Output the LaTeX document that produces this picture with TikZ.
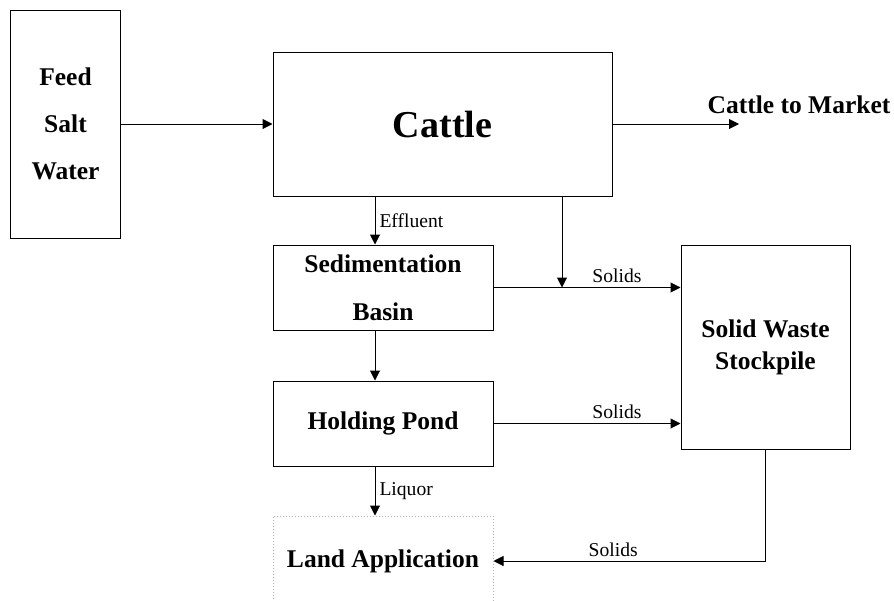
\documentclass[tikz,border=0pt]{standalone}
\usepackage{fontspec}
\setmainfont{Liberation Serif}
\usetikzlibrary{arrows.meta, calc, positioning}

\begin{document}
\begin{tikzpicture}[x=0.5pt, y=-0.5pt, line width=0.5pt,
  box/.style={shape=rectangle, draw=black, fill=white, align=center, font=\fontsize{12.75}{16}\selectfont\bfseries},
  tag/.style={font=\fontsize{9.8}{12}\selectfont, inner sep=2pt},
  flow/.style={-{Triangle[length=5pt, width=5pt]}}]
\useasboundingbox (0,0) rectangle (894,600);
\node[box, minimum height=114pt, minimum width=55pt, font=\fontsize{12.75}{23.5}\selectfont\bfseries] (feed) at (65.5,124) {Feed\\Salt\\Water};
\node[box, minimum height=72pt, minimum width=169.5pt, font=\fontsize{19}{23}\selectfont\bfseries] (cattle) at (442.5,124) {Cattle};
\node[box, minimum height=42.5pt, minimum width=110pt, font=\fontsize{12.75}{24}\selectfont\bfseries] (sed) at (383,287.5) {Sedimentation\\Basin};
\node[box, minimum height=42.5pt, minimum width=110pt] (hold) at (383,423.5) {Holding Pond};
\node[box, draw=gray!60, densely dotted, minimum height=45pt, minimum width=110pt] (land) at (383,561) {Land Application};
\node[box, minimum height=102pt, minimum width=84.5pt] (stock) at (765.5,347) {Solid Waste\\Stockpile};
\node[font=\fontsize{12.75}{16}\selectfont\bfseries] (market) at (799,105) {Cattle to Market};
\coordinate (mkt) at (739,124);
\coordinate (jn) at (562,287.5);
\coordinate (s1) at ([xshift=-4pt]sed.north);
\coordinate (s2) at ([xshift=-4pt]hold.north);
\coordinate (s3) at ([xshift=-4pt]land.north);

\draw[flow] (feed) -- (cattle);
\draw[flow] (cattle.east) -- (mkt);
\draw[flow] (s1 |- cattle.south) -- node[tag, right] {Effluent} (s1);
\draw[flow] (jn |- cattle.south) -- (jn);
\draw[flow] (sed.east) -- node[tag, above, pos=0.66] {Solids} (sed.east -| stock.west);
\draw[flow] (s2 |- sed.south) -- (s2);
\draw[flow] (hold.east) -- node[tag, above, pos=0.66] {Solids} (hold.east -| stock.west);
\draw[flow] (s3 |- hold.south) -- node[tag, right] {Liquor} (s3);
\draw[flow] (stock.south) |- node[tag, above, pos=0.78] {Solids} (land.east);
\end{tikzpicture}
\end{document}
